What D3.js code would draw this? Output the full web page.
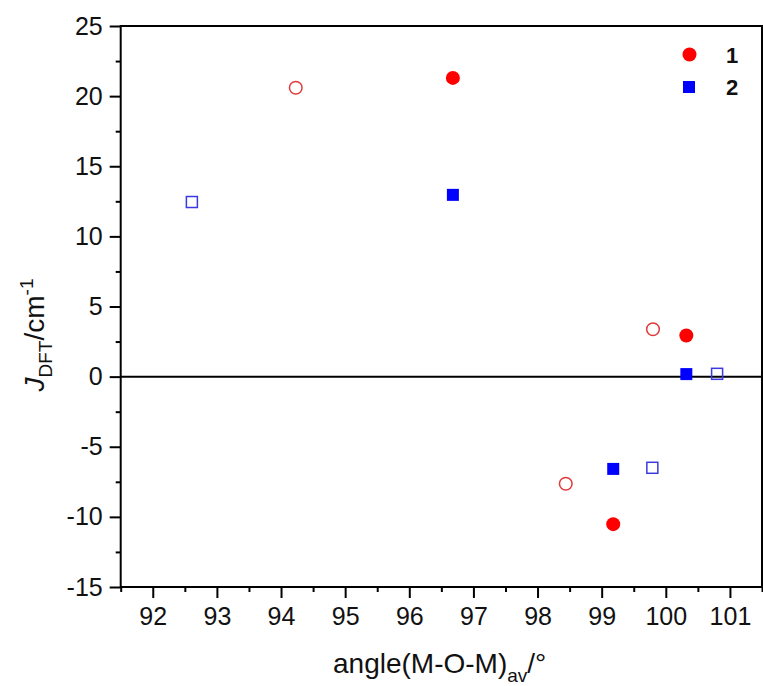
<!DOCTYPE html>
<html><head><meta charset="utf-8">
<script src="https://cdn.jsdelivr.net/npm/d3@7"></script>
<style>body{margin:0;background:#fff}svg text{font-family:"Liberation Sans",Arial,sans-serif}</style>
</head><body>
<svg id="c" width="763" height="686"></svg>
<script>
// Data
const filledCircle = [[96.68, 21.3], [100.32, 2.93], [99.18, -10.52]];   // 1
const openCircle   = [[94.23, 20.6], [99.80, 3.38], [98.44, -7.64]];
const filledSquare = [[96.68, 12.96], [100.32, 0.18], [99.18, -6.58]];   // 2
const openSquare   = [[92.61, 12.45], [100.80, 0.2], [99.79, -6.5]];
const xTicks = [92, 93, 94, 95, 96, 97, 98, 99, 100, 101];
const yTicks = [-15, -10, -5, 0, 5, 10, 15, 20, 25];
const legendLabels = ["1", "2"];

const svg = d3.select("#c");
const L = 120.7, R = 762, T = 26, B = 587;
const x = d3.scaleLinear().domain([91.5, 101.5]).range([L, R]);
const y = d3.scaleLinear().domain([-15, 25]).range([B, T]);

const xMinor = d3.range(91.5, 101.6, 1);
const yMinor = d3.range(-12.5, 25, 5);
const fmt = d => String(d);

svg.append("g").attr("transform", `translate(0,${B})`)
  .call(d3.axisBottom(x).tickValues(xTicks).tickSize(11).tickPadding(9).tickFormat(fmt));
svg.append("g").attr("transform", `translate(${L},0)`)
  .call(d3.axisLeft(y).tickValues(yTicks).tickSize(11).tickPadding(7).tickFormat(fmt));
svg.append("g").attr("transform", `translate(0,${B})`)
  .call(d3.axisBottom(x).tickValues(xMinor).tickSize(5).tickFormat(""));
svg.append("g").attr("transform", `translate(${L},0)`)
  .call(d3.axisLeft(y).tickValues(yMinor).tickSize(5).tickFormat(""));

svg.selectAll(".domain").remove();
svg.selectAll(".tick line").attr("stroke", "#000").attr("stroke-width", 2);
svg.selectAll(".tick text").attr("font-size", 25).attr("fill", "#111");

// frame
svg.append("rect").attr("x", L).attr("y", T).attr("width", R - L).attr("height", B - T)
  .attr("fill", "none").attr("stroke", "#000").attr("stroke-width", 2);
// zero line
svg.append("line").attr("x1", L).attr("x2", R).attr("y1", y(0)).attr("y2", y(0))
  .attr("stroke", "#000").attr("stroke-width", 2);

// points
svg.selectAll(".oc").data(openCircle).enter().append("circle")
  .attr("cx", d => x(d[0])).attr("cy", d => y(d[1])).attr("r", 6.3)
  .attr("fill", "none").attr("stroke", "#e03a3a").attr("stroke-width", 1.5);
svg.selectAll(".fc").data(filledCircle).enter().append("circle")
  .attr("cx", d => x(d[0])).attr("cy", d => y(d[1])).attr("r", 7)
  .attr("fill", "#ff0000");
svg.selectAll(".os").data(openSquare).enter().append("rect")
  .attr("x", d => x(d[0]) - 5.5).attr("y", d => y(d[1]) - 5.5).attr("width", 11).attr("height", 11)
  .attr("fill", "none").attr("stroke", "#3a3ae0").attr("stroke-width", 1.5);
svg.selectAll(".fs").data(filledSquare).enter().append("rect")
  .attr("x", d => x(d[0]) - 6).attr("y", d => y(d[1]) - 6).attr("width", 12).attr("height", 12)
  .attr("fill", "#0000ff");

// legend
svg.append("circle").attr("cx", 689.5).attr("cy", 54.5).attr("r", 7).attr("fill", "#ff0000");
svg.append("rect").attr("x", 683).attr("y", 81).attr("width", 12).attr("height", 12).attr("fill", "#0000ff");
svg.selectAll(".lg").data(legendLabels).enter().append("text")
  .attr("x", 726).attr("y", (d, i) => 63 + i * 32)
  .attr("font-size", 22).attr("font-weight", "bold").attr("fill", "#111").text(d => d);

// axis titles
const xt = svg.append("text").attr("x", 333).attr("y", 673)
  .attr("font-size", 28).attr("fill", "#111");
xt.append("tspan").text("angle(M-O-M)");
xt.append("tspan").attr("font-size", 19).attr("dy", 9).text("av");
xt.append("tspan").attr("dy", -9).text("/°");

const yt = svg.append("text").attr("transform", "translate(44,335) rotate(-90)")
  .attr("text-anchor", "middle").attr("font-size", 28).attr("fill", "#111");
yt.append("tspan").attr("font-style", "italic").text("J");
yt.append("tspan").attr("font-size", 19).attr("dy", 8).text("DFT");
yt.append("tspan").attr("dy", -8).text("/cm");
yt.append("tspan").attr("font-size", 19).attr("dy", -11).text("-1");
</script>
</body></html>
